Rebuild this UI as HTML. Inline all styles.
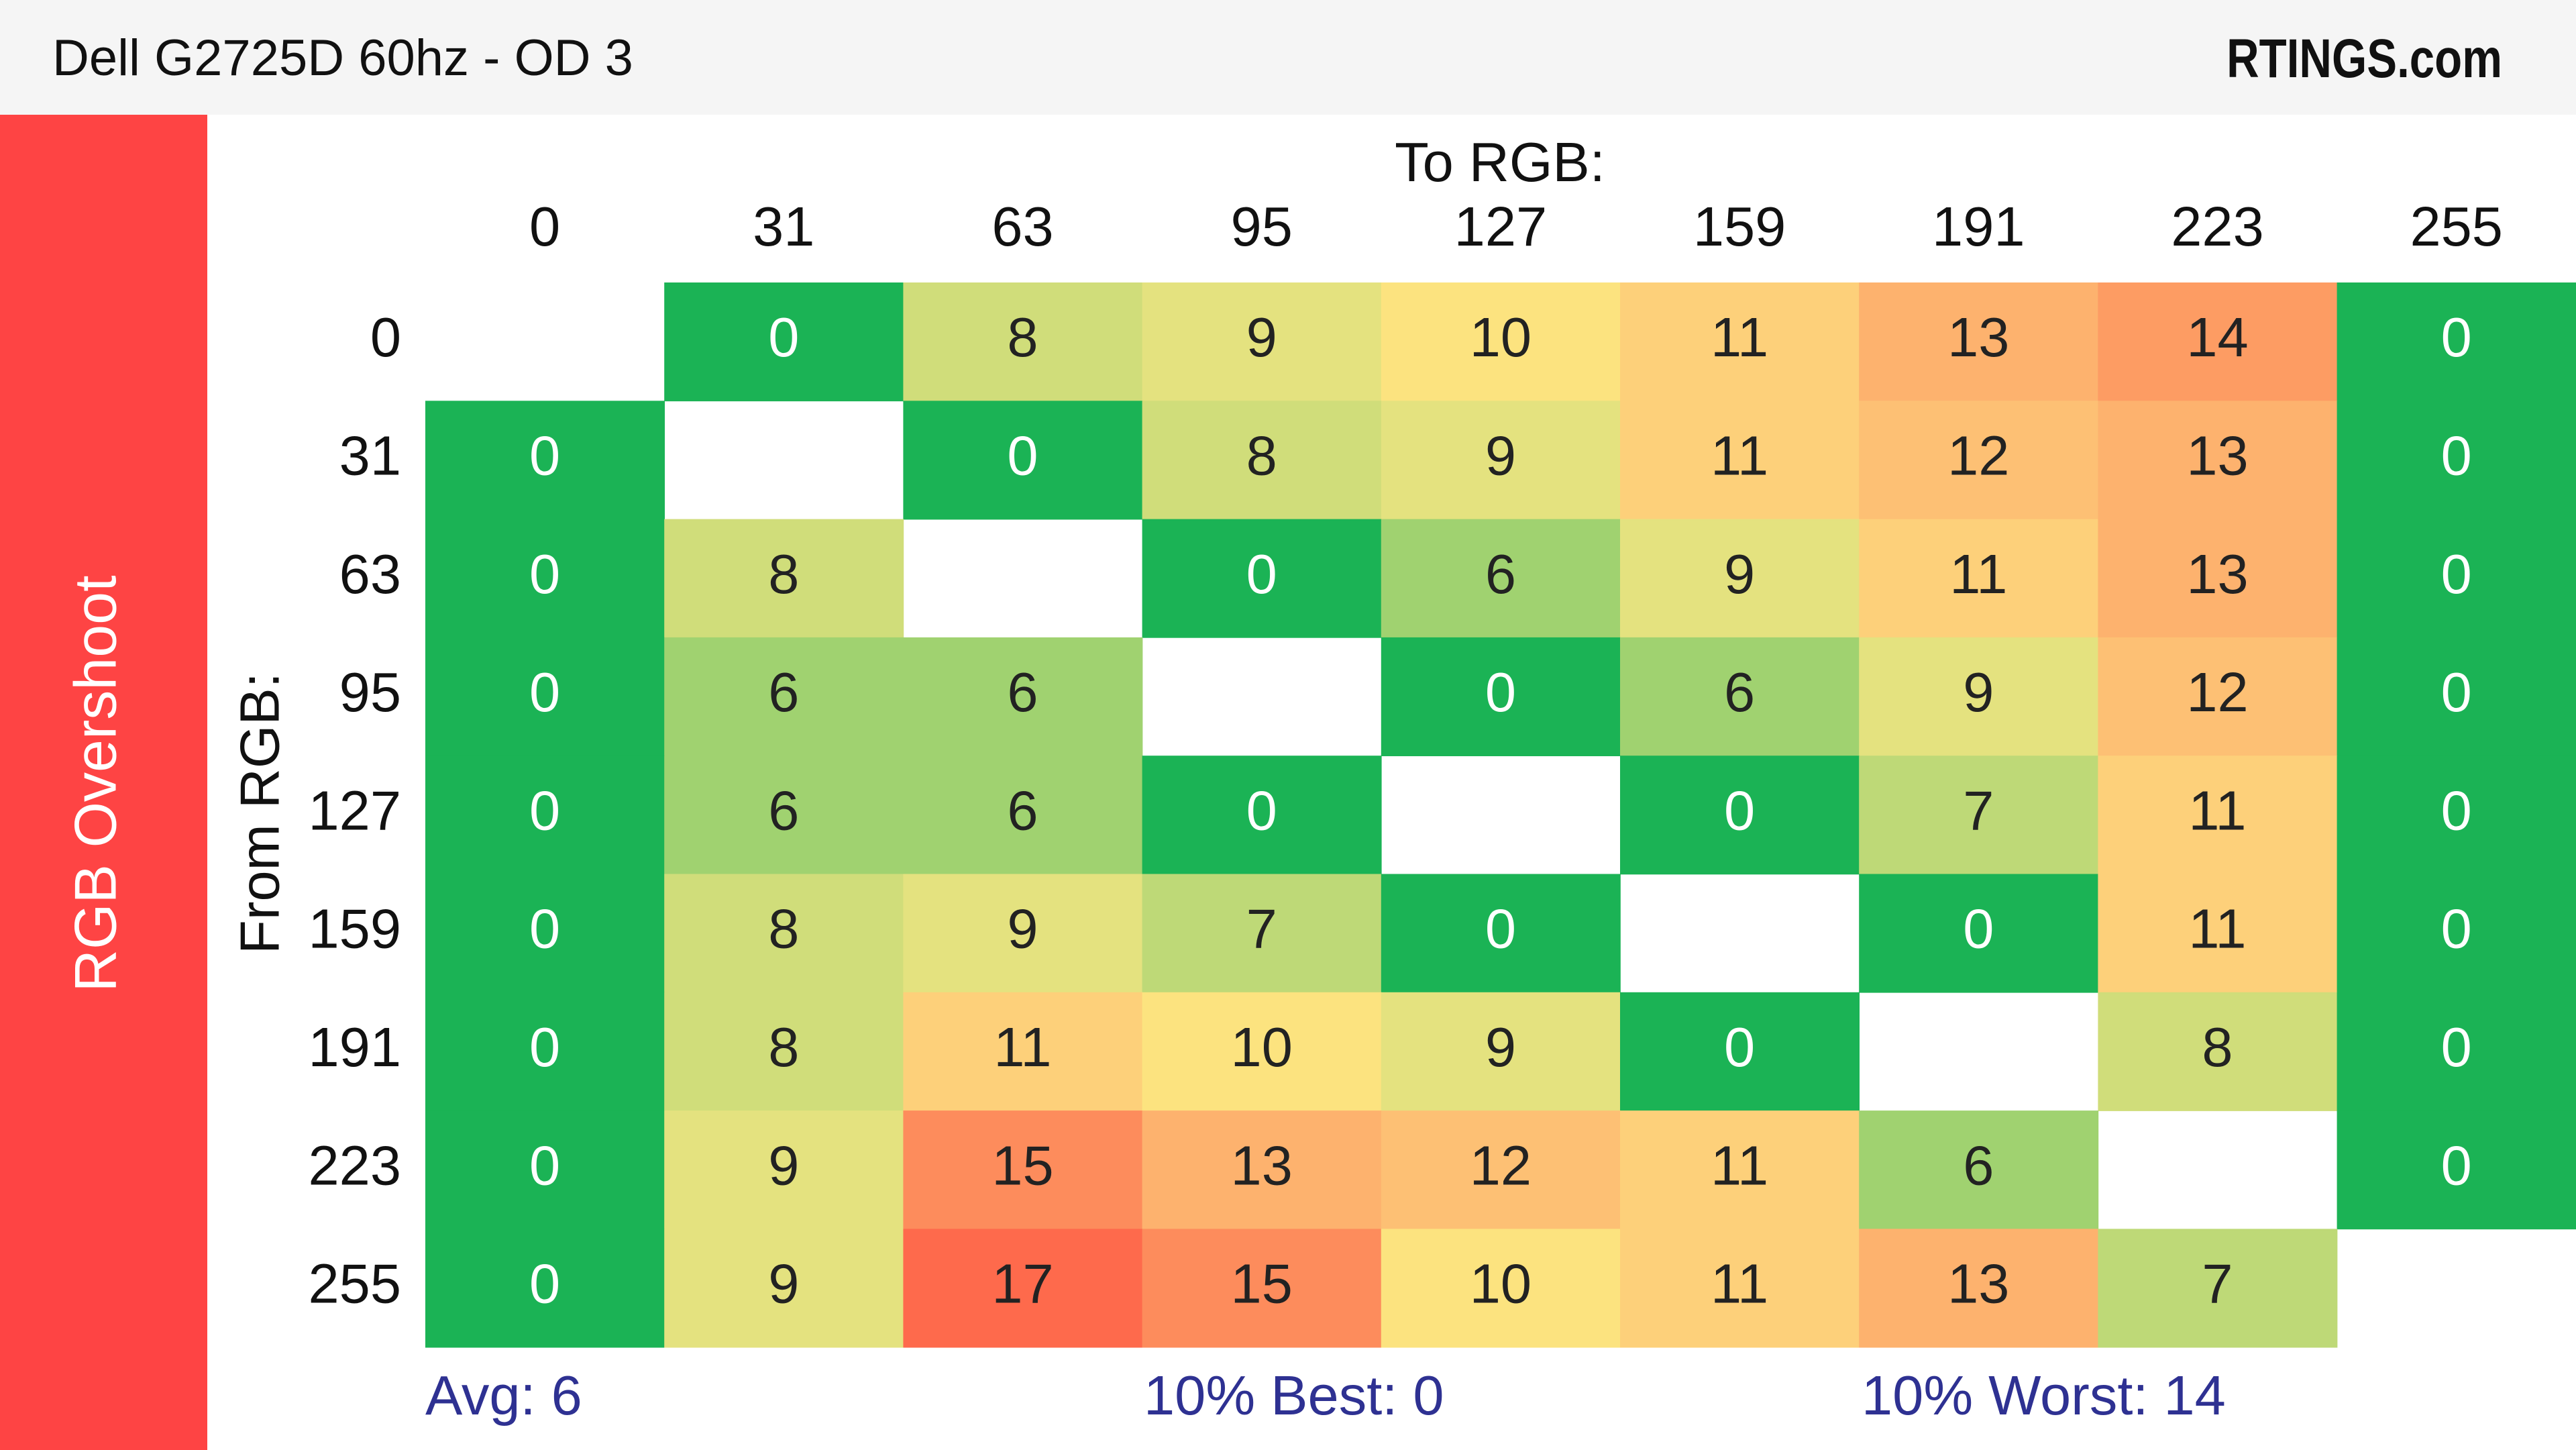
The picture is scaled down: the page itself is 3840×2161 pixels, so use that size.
<!DOCTYPE html>
<html><head><meta charset="utf-8"><style>
html,body{margin:0;padding:0;background:#fff;}
svg{display:block;font-family:"Liberation Sans",sans-serif;}
</style></head><body>
<svg id="chart" width="3840" height="2161" viewBox="0 0 3840 2161" xmlns="http://www.w3.org/2000/svg">
<rect x="0" y="0" width="3840" height="171" fill="#f5f5f5"/>
<text x="78" y="112" font-size="76" fill="#111">Dell G2725D 60hz - OD 3</text>
<text x="3730" y="115" font-size="82" font-weight="bold" text-anchor="end" fill="#111" transform="translate(3730 0) scale(0.82 1) translate(-3730 0)">RTINGS.com</text>
<rect x="0" y="171" width="309" height="1990" fill="#fe4444"/>
<text x="142" y="1168" font-size="88" fill="#fff" text-anchor="middle" dominant-baseline="central" transform="rotate(-90 142 1168)">RGB Overshoot</text>
<text x="2236" y="270" font-size="83" fill="#111" text-anchor="middle">To RGB:</text>
<text x="387" y="1212" font-size="83" fill="#111" text-anchor="middle" dominant-baseline="central" transform="rotate(-90 387 1212)">From RGB:</text>
<g id="cells"></g>
<text x="634" y="2108" font-size="83" fill="#2e3192">Avg: 6</text>
<text x="1705" y="2108" font-size="83" fill="#2e3192">10% Best: 0</text>
<text x="2775" y="2108" font-size="83" fill="#2e3192">10% Worst: 14</text>
</svg>
<script>
const toLabels = ["0","31","63","95","127","159","191","223","255"];
const fromLabels = ["0","31","63","95","127","159","191","223","255"];
const row0 = [null,0,8,9,10,11,13,14,0];
const row1 = [0,null,0,8,9,11,12,13,0];
const row2 = [0,8,null,0,6,9,11,13,0];
const row3 = [0,6,6,null,0,6,9,12,0];
const row4 = [0,6,6,0,null,0,7,11,0];
const row5 = [0,8,9,7,0,null,0,11,0];
const row6 = [0,8,11,10,9,0,null,8,0];
const row7 = [0,9,15,13,12,11,6,null,0];
const row8 = [0,9,17,15,10,11,13,7,null];
const values = [row0,row1,row2,row3,row4,row5,row6,row7,row8];

const X0 = 634, CW = 356.2, Y0 = 421, RH = 176.3;
function xPos(i){ return X0 + i*CW; }
function yPos(j){ return Y0 + j*RH; }
function colorFor(v){
  const stops = [[0,[27,179,85]],[5,[150,208,110]],[6,[160,210,112]],[7,[190,217,119]],[8,[208,221,122]],[9,[228,226,127]],[10,[252,227,127]],[11,[253,208,122]],[12,[253,192,116]],[13,[253,178,110]],[14,[253,156,99]],[15,[253,140,92]],[17,[254,106,76]],[20,[254,68,68]]];
  if (v <= 0) return "rgb(27,179,85)";
  for (let k=1;k<stops.length;k++){
    if (v <= stops[k][0]){
      const a=stops[k-1], b=stops[k], t=(v-a[0])/(b[0]-a[0]);
      const c=a[1].map((x,i)=>Math.round(x+(b[1][i]-x)*t));
      return "rgb("+c.join(",")+")";
    }
  }
  return "rgb(254,68,68)";
}
const NS = "http://www.w3.org/2000/svg";
const g = document.getElementById("cells");
const svg = document.getElementById("chart");
toLabels.forEach((l,i)=>{
  const t=document.createElementNS(NS,"text");
  t.setAttribute("x", xPos(i)+CW/2); t.setAttribute("y", 366);
  t.setAttribute("font-size","83"); t.setAttribute("text-anchor","middle"); t.setAttribute("fill","#111");
  t.textContent=l;
  
  
  svg.appendChild(t);
});
fromLabels.forEach((l,j)=>{
  const t=document.createElementNS(NS,"text");
  t.setAttribute("x", 598); t.setAttribute("y", yPos(j)+RH/2+22);
  t.setAttribute("font-size","83"); t.setAttribute("text-anchor","end"); t.setAttribute("fill","#111");
  t.textContent=l;
  
  
  svg.appendChild(t);
});
values.forEach((row,j)=>{
  row.forEach((v,i)=>{
    if (v===null) return;
    const r=document.createElementNS(NS,"rect");
    r.setAttribute("x", xPos(i)); r.setAttribute("y", yPos(j));
    r.setAttribute("width", CW+0.8); r.setAttribute("height", RH+0.8);
    r.setAttribute("fill", colorFor(v));
    
    
    g.appendChild(r);
    const t=document.createElementNS(NS,"text");
    t.setAttribute("x", xPos(i)+CW/2); t.setAttribute("y", yPos(j)+RH/2+22);
    t.setAttribute("font-size","83"); t.setAttribute("text-anchor","middle");
    t.setAttribute("fill", v===0 ? "#fff" : "#222");
    t.textContent=String(v);
    
    
    g.appendChild(t);
  });
});
</script>
</body></html>
